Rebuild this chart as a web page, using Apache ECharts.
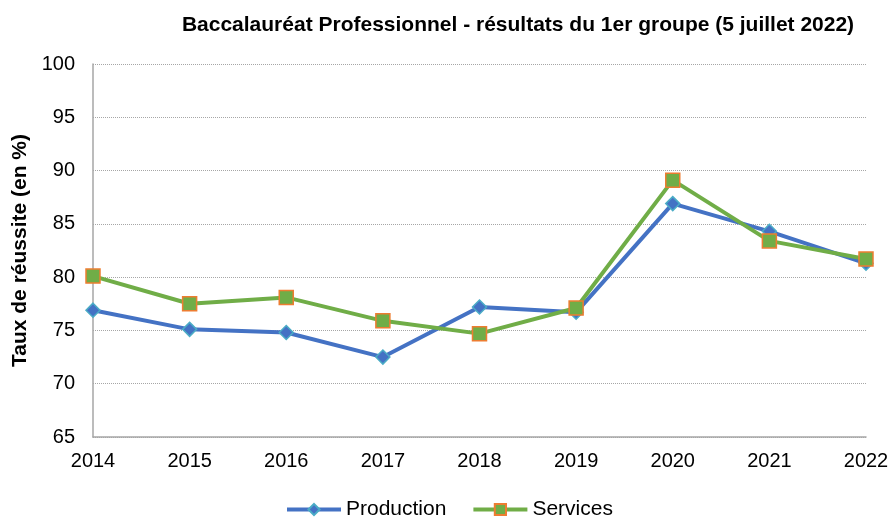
<!DOCTYPE html>
<html>
<head>
<meta charset="utf-8">
<script src="https://cdn.jsdelivr.net/npm/echarts@6/dist/echarts.min.js"></script>
<style>
  html, body { margin: 0; padding: 0; background: #fff; }
  #chart { width: 890px; height: 518px; }
</style>
</head>
<body>
<div id="chart"></div>
<script>
var years = ['2014', '2015', '2016', '2017', '2018', '2019', '2020', '2021', '2022'];
var production = [76.9, 75.1, 74.8, 72.5, 77.2, 76.7, 86.9, 84.3, 81.3];
var services = [80.1, 77.5, 78.1, 75.9, 74.7, 77.1, 89.1, 83.4, 81.7];

var chart = echarts.init(document.getElementById('chart'));

chart.setOption({
  textStyle: { fontFamily: 'Liberation Sans, Arial, sans-serif' },
  title: {
    text: 'Baccalauréat Professionnel - résultats du 1er groupe (5 juillet 2022)',
    left: 513,
    textAlign: 'center',
    top: 10,
    textStyle: { fontSize: 21, fontWeight: 'bold', color: '#000', fontFamily: 'Liberation Sans, Arial, sans-serif' }
  },
  legend: {
    bottom: -7,
    left: 280,
    itemWidth: 54,
    itemHeight: 14,
    itemGap: 25,
    textStyle: { fontSize: 21, color: '#000' },
    lineStyle: { width: 4 },
    data: ['Production', 'Services']
  },
  grid: {
    left: 93,
    right: 24,
    top: 64,
    bottom: 81,
    outerBoundsMode: 'none',
    containLabel: false
  },
  xAxis: {
    type: 'category',
    data: years,
    boundaryGap: false,
    axisLine: { lineStyle: { color: '#a6a6a6', width: 1.5 } },
    axisTick: { show: false },
    axisLabel: { fontSize: 20, color: '#000', margin: 14 }
  },
  yAxis: {
    type: 'value',
    min: 65,
    max: 100,
    interval: 5,
    name: 'Taux de réussite (en %)',
    nameLocation: 'middle',
    nameGap: 60,
    nameTextStyle: { fontSize: 21, fontWeight: 'bold', color: '#000' },
    axisLine: { show: true, lineStyle: { color: '#a6a6a6', width: 1.5 } },
    axisTick: { show: false },
    axisLabel: { fontSize: 20, color: '#000', margin: 18 },
    splitLine: { lineStyle: { color: '#a6a6a6', type: 'dotted', width: 1 } }
  },
  series: [
    {
      name: 'Production',
      type: 'line',
      data: production,
      symbol: 'diamond',
      symbolSize: 14,
      lineStyle: { color: '#4472C4', width: 4 },
      itemStyle: { color: '#4472C4', borderColor: '#4bacc6', borderWidth: 1.5 },
      z: 2
    },
    {
      name: 'Services',
      type: 'line',
      data: services,
      symbol: 'rect',
      symbolSize: 14,
      lineStyle: { color: '#70AD47', width: 4 },
      itemStyle: { color: '#70AD47', borderColor: '#ED7D31', borderWidth: 1.5 },
      z: 3
    }
  ],
  animation: false
});
</script>
</body>
</html>
